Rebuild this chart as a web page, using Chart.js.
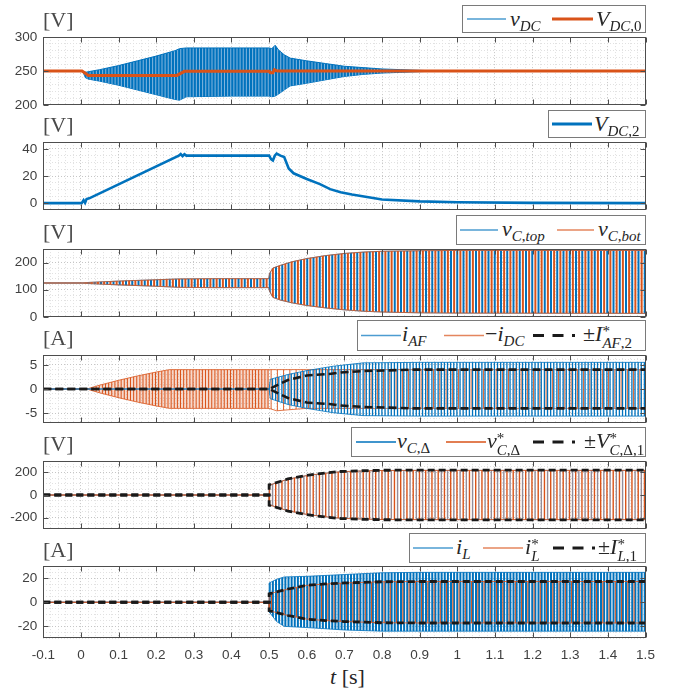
<!DOCTYPE html>
<html>
<head>
<meta charset="utf-8">
<script src="https://cdn.jsdelivr.net/npm/chart.js@4.4.0/dist/chart.umd.min.js"></script>
<style>
body { margin: 0; background: #fff; }
#wrap { position: relative; width: 675px; height: 693px; overflow: hidden; background: #fff; }
canvas { position: absolute; left: 0; }
.unit { position: absolute; left: 43px; font: 22px "Liberation Serif", serif; color: #4a4a4a; line-height: 1; z-index: 2; }
.leg { position: absolute; background: #fff; border: 1px solid #7a7a7a; box-sizing: border-box; z-index: 3;
       font-family: "Liberation Serif", serif; color: #262626; }
.leg svg { position: absolute; top: 0; }
.tx { position: absolute; white-space: nowrap; font-size: 22px; line-height: 1; top: 2px; }
.sb { font-size: 15px; position: relative; top: 5px; }
.ss { display: inline-block; vertical-align: -7px; font-size: 15px; line-height: 12px; }
.ss > span { display: block; }
#xt { position: absolute; left: 330px; top: 664px; font: 22px "Liberation Serif", serif; color: #262626; }
</style>
</head>
<body>
<div id="wrap">
  <div class="unit" style="top:9px">[V]</div>
  <div class="unit" style="top:114px">[V]</div>
  <div class="unit" style="top:221px">[V]</div>
  <div class="unit" style="top:327px">[A]</div>
  <div class="unit" style="top:433px">[V]</div>
  <div class="unit" style="top:539px">[A]</div>

  <div class="leg" style="left:462px;top:5px;width:184px;height:28px">
    <svg style="left:4px" width="39" height="26"><line x1="0" y1="13" x2="39" y2="13" stroke="#0072BD" stroke-opacity="0.7" stroke-width="1.4"/></svg>
    <span class="tx" style="left:47px"><i>v</i><span class="sb"><i>DC</i></span></span>
    <svg style="left:89px" width="41" height="26"><line x1="0" y1="13" x2="41" y2="13" stroke="#D95319" stroke-width="3"/></svg>
    <span class="tx" style="left:133px"><i>V</i><span class="sb"><i>DC</i>,0</span></span>
  </div>

  <div class="leg" style="left:548px;top:110px;width:98px;height:28px">
    <svg style="left:3px" width="40" height="26"><line x1="0" y1="13" x2="40" y2="13" stroke="#0072BD" stroke-width="3"/></svg>
    <span class="tx" style="left:45px"><i>V</i><span class="sb"><i>DC</i>,2</span></span>
  </div>

  <div class="leg" style="left:456px;top:215px;width:190px;height:30px">
    <svg style="left:3px" width="38" height="28"><line x1="0" y1="14" x2="38" y2="14" stroke="#0072BD" stroke-opacity="0.7" stroke-width="1.4"/></svg>
    <span class="tx" style="left:45px"><i>v</i><span class="sb"><i>C</i>,<i>top</i></span></span>
    <svg style="left:100px" width="37" height="28"><line x1="0" y1="14" x2="37" y2="14" stroke="#D95319" stroke-opacity="0.7" stroke-width="1.4"/></svg>
    <span class="tx" style="left:141px"><i>v</i><span class="sb"><i>C</i>,<i>bot</i></span></span>
  </div>

  <div class="leg" style="left:357px;top:320px;width:289px;height:31px">
    <svg style="left:3px" width="40" height="29"><line x1="0" y1="14.5" x2="40" y2="14.5" stroke="#0072BD" stroke-opacity="0.7" stroke-width="1.4"/></svg>
    <span class="tx" style="left:44px"><i>i</i><span class="sb"><i>AF</i></span></span>
    <svg style="left:86px" width="40" height="29"><line x1="0" y1="14.5" x2="40" y2="14.5" stroke="#D95319" stroke-opacity="0.7" stroke-width="1.4"/></svg>
    <span class="tx" style="left:127px">&minus;<i>i</i><span class="sb"><i>DC</i></span></span>
    <svg style="left:175px" width="42" height="29"><line x1="0" y1="14.5" x2="42" y2="14.5" stroke="#1a1a1a" stroke-width="3" stroke-dasharray="11 8.5"/></svg>
    <span class="tx" style="left:225px">&plusmn;<i>I</i><span class="ss"><span>*</span><span><i>AF</i>,2</span></span></span>
  </div>

  <div class="leg" style="left:351px;top:427px;width:295px;height:30px">
    <svg style="left:4px" width="40" height="28"><line x1="0" y1="14" x2="40" y2="14" stroke="#0072BD" stroke-width="1.4"/></svg>
    <span class="tx" style="left:45px"><i>v</i><span class="sb"><i>C</i>,&Delta;</span></span>
    <svg style="left:94px" width="40" height="28"><line x1="0" y1="14" x2="40" y2="14" stroke="#D95319" stroke-width="1.4"/></svg>
    <span class="tx" style="left:135px"><i>v</i><span class="ss"><span>*</span><span><i>C</i>,&Delta;</span></span></span>
    <svg style="left:181px" width="42" height="28"><line x1="0" y1="14" x2="42" y2="14" stroke="#1a1a1a" stroke-width="3" stroke-dasharray="11 8.5"/></svg>
    <span class="tx" style="left:232px">&plusmn;<i>V</i><span class="ss"><span>*</span><span><i>C</i>,&Delta;,1</span></span></span>
  </div>

  <div class="leg" style="left:409px;top:533px;width:237px;height:30px">
    <svg style="left:3px" width="40" height="28"><line x1="0" y1="14" x2="40" y2="14" stroke="#0072BD" stroke-opacity="0.7" stroke-width="1.4"/></svg>
    <span class="tx" style="left:46px"><i>i</i><span class="sb"><i>L</i></span></span>
    <svg style="left:73px" width="40" height="28"><line x1="0" y1="14" x2="40" y2="14" stroke="#D95319" stroke-opacity="0.7" stroke-width="1.4"/></svg>
    <span class="tx" style="left:115px"><i>i</i><span class="ss"><span>*</span><span><i>L</i></span></span></span>
    <svg style="left:143px" width="42" height="28"><line x1="0" y1="14" x2="42" y2="14" stroke="#1a1a1a" stroke-width="3" stroke-dasharray="11 8.5"/></svg>
    <span class="tx" style="left:188px">&plusmn;<i>I</i><span class="ss"><span>*</span><span><i>L</i>,1</span></span></span>
  </div>

  <div id="xt"><i>t</i> [s]</div>
</div>

<script>
// values, time in seconds
const xLabels = ['-0.1', '0', '0.1', '0.2', '0.3', '0.4', '0.5', '0.6', '0.7', '0.8',
                 '0.9', '1', '1.1', '1.2', '1.3', '1.4', '1.5'];

// panel 1: ripple envelope of v_DC, and V_DC,0
const tVdc  = [-0.1, 0.004, 0.012, 0.02, 0.05, 0.1, 0.15, 0.2, 0.25, 0.262, 0.28, 0.4, 0.5, 0.507, 0.516, 0.525, 0.54, 0.556, 0.6, 0.65, 0.7, 0.75, 0.8, 0.85, 0.9, 0.95, 1.5];
const vdcHi = [250, 250, 248, 249, 252, 258, 265, 272, 280, 283, 284, 284, 284, 283, 288, 281, 274, 269, 265, 261, 257, 255, 253, 252, 251, 250, 250];
const vdcLo = [250, 250, 240, 238, 235, 229, 222, 215, 208, 207, 212, 213, 213, 212, 213, 216, 222, 228, 232, 237, 242, 245, 247, 248, 249, 250, 250];
const tVdc0 = [-0.1, 0.003, 0.02, 0.255, 0.275, 0.5, 0.504, 0.51, 0.514, 0.522, 1.5];
const vdc0  = [250, 250, 243.5, 243.5, 249.5, 249.5, 247.5, 247.5, 252, 250, 250];

// panel 2: V_DC,2
const tVdc2 = [-0.1, 0.002, 0.007, 0.011, 0.015, 0.022, 0.26, 0.265, 0.27, 0.275, 0.28, 0.29, 0.5, 0.505, 0.51, 0.515, 0.52, 0.53, 0.54, 0.552, 0.565, 0.6, 0.635, 0.662, 0.69, 0.72, 0.8, 0.9, 1.0, 1.2, 1.5];
const vdc2  = [0, 0, 2.2, 0.3, 3, 3.5, 35, 36.2, 34.6, 36, 35, 35, 35, 32.5, 31.5, 35, 36.5, 35, 34, 25.5, 22, 17.8, 14, 10.3, 8, 6.3, 2.7, 1.3, 0.6, 0.2, 0];

// panel 3: envelope of v_C,top and v_C,bot
const tVc  = [-0.1, 0.005, 0.02, 0.1, 0.2, 0.26, 0.35, 0.499, 0.501, 0.51, 0.53, 0.56, 0.6, 0.65, 0.7, 0.75, 0.8, 0.9, 1.0, 1.5];
const vcHi = [125, 125, 127, 132, 137, 140, 141, 141, 160, 180, 190, 203, 215, 226, 234, 239, 242, 244, 245, 245];
const vcLo = [125, 125, 123, 118, 113, 109, 108, 108, 95, 72, 62, 52, 42, 33, 26, 21, 18, 15, 14, 13];

// panel 4: i_AF, -i_DC envelopes and I*_AF,2
const tIdc   = [-0.1, 0.015, 0.05, 0.1, 0.15, 0.2, 0.235, 0.5, 0.52, 0.55, 0.6, 1.5];
const idcHi  = [0, 0, 0.8, 1.8, 2.7, 3.5, 4, 4, 4, 4, 4, 4];
const idcLo  = [0, 0, -0.8, -1.8, -2.7, -3.5, -4, -4, -4.5, -4.3, -4, -4];
const tIaf   = [-0.1, 0.5, 0.503, 0.55, 0.6, 0.67, 0.75, 0.9, 1.5];
const iafHi  = [0, 0, 2, 3, 3.8, 4.7, 5.4, 5.5, 5.5];
const iafLo  = [0, 0, -2, -3.2, -4, -4.9, -5.5, -5.6, -5.6];
const tIafRef = [-0.1, 0.5, 0.55, 0.6, 0.66, 0.69, 0.75, 0.88, 1.0, 1.5];
const iafRef  = [0, 0, 1.85, 2.8, 3.1, 3.4, 3.7, 4.0, 4.0, 4.0];

// panel 5: v_C,delta, v*_C,delta envelopes and V*_C,delta,1
const tVcd   = [-0.1, 0.5, 0.5, 0.505, 0.55, 0.6, 0.65, 0.69, 0.75, 0.8, 0.9, 1.5];
const vcdRef = [0, 0, 90, 95, 142, 174, 195, 208, 215, 219, 220, 220];
const vcdHi  = [0, 0, 85, 92, 140, 172, 193, 206, 213, 217, 218, 218];
const vcdLo  = [0, 0, -85, -92, -140, -172, -193, -206, -213, -217, -218, -218];

// panel 6: i_L, i*_L envelopes and I*_L,1
const tIl    = [-0.1, 0.5, 0.5, 0.52, 0.54, 0.6, 0.7, 0.8, 0.9, 1.5];
const ilHi   = [0, 0, 16, 19, 21, 21.5, 23, 24.5, 24.8, 24.8];
const ilLo   = [0, 0, -8, -16, -20, -21, -23, -24, -24, -24];
const tIlRef = [-0.1, 0.5, 0.5, 0.55, 0.6, 0.65, 0.7, 0.8, 0.9, 1.5];
const ilRef  = [0, 0, 7, 11, 14, 15.2, 16, 17, 17.2, 17.2];
const ilsHi  = [0, 0, 7, 11, 14, 15.2, 16, 17, 17.2, 17.2];
const ilsLo  = [0, 0, -7, -11, -14, -15.2, -16, -17, -17.2, -17.2];

const BLUE = '#0072BD', ORANGE = '#D95319', BLACK = '#1a1a1a';
const panels = [
  {top: 33, h: 76}, {top: 138, h: 76}, {top: 245, h: 76},
  {top: 351, h: 76}, {top: 457, h: 76}, {top: 562.7, h: 75.7}
];

Chart.defaults.font.family = '"Liberation Sans", Arial, sans-serif';

const pts = (t, v) => t.map((x, i) => ({x: x, y: v[i]}));
const neg = v => v.map(a => -a);
const isMajor = (v, m) => Math.abs(v / m - Math.round(v / m)) < 1e-6;

// vertical stripe fill that stands in for the dense oscillation
function stripes(ctx, period, marks, bg) {
  const n = Math.max(1, Math.round(25 / period));
  const w = Math.round(period * n);
  const c = document.createElement('canvas');
  c.width = w; c.height = 2;
  const g = c.getContext('2d');
  if (bg) { g.fillStyle = bg; g.fillRect(0, 0, w, 2); }
  const p = w / n;
  for (let k = 0; k < n; k++) {
    marks.forEach(([off, wd, col]) => { g.fillStyle = col; g.fillRect(k * p + off, 0, wd, 2); });
  }
  return ctx.createPattern(c, 'repeat');
}

function band(t, hi, lo, color, fillStyle, lateFill) {
  const upper = {data: pts(t, hi), borderColor: color, borderWidth: 1, backgroundColor: fillStyle, fill: '+1'};
  if (lateFill) upper.segment = {backgroundColor: s => s.p0.parsed.x >= 0.5 ? lateFill : fillStyle};
  return [upper, {data: pts(t, lo), borderColor: color, borderWidth: 1, fill: false}];
}

function line(t, v, color, width, dash) {
  return {data: pts(t, v), borderColor: color, borderWidth: width, borderDash: dash || [], fill: false};
}

function framePlugin(yMajor) {
  return {
    id: 'frame',
    afterDraw(chart) {
      const {ctx, chartArea: a, scales: {x, y}} = chart;
      ctx.save();
      ctx.strokeStyle = '#4d4d4d';
      ctx.lineWidth = 1;
      const L = Math.round(a.left) + 0.5, R = Math.round(a.right) - 0.5;
      const T = Math.round(a.top) + 0.5, B = Math.round(a.bottom) - 0.5;
      ctx.strokeRect(L, T, R - L, B - T);
      ctx.beginPath();
      x.ticks.forEach(tk => {
        if (!isMajor(tk.value + 0.1, 0.1)) return;
        const px = Math.round(x.getPixelForValue(tk.value)) + 0.5;
        ctx.moveTo(px, T); ctx.lineTo(px, T + 5);
        ctx.moveTo(px, B); ctx.lineTo(px, B - 5);
      });
      y.ticks.forEach(tk => {
        if (!isMajor(tk.value, yMajor)) return;
        const py = Math.round(y.getPixelForValue(tk.value)) + 0.5;
        ctx.moveTo(L, py); ctx.lineTo(L + 5, py);
        ctx.moveTo(R, py); ctx.lineTo(R - 5, py);
      });
      ctx.stroke();
      ctx.restore();
    }
  };
}

const gridColor = (v, m) => isMajor(v, m) ? '#c6c6c6' : '#e1e1e1';

function makePanel(i, yMin, yMax, yStep, yMajor, buildDatasets) {
  const bottom = i === panels.length - 1;
  const p = panels[i];
  const cTop = Math.floor(p.top - 10);
  const padTop = p.top - cTop;
  const xh = bottom ? 32 : 10;
  const cv = document.createElement('canvas');
  cv.width = 675;
  cv.height = Math.ceil(padTop + p.h + xh);
  cv.style.top = cTop + 'px';
  document.getElementById('wrap').appendChild(cv);
  const ctx = cv.getContext('2d');

  new Chart(ctx, {
    type: 'line',
    data: {datasets: buildDatasets(ctx)},
    options: {
      responsive: false,
      animation: false,
      events: [],
      layout: {padding: {top: padTop, right: 675 - 645.5, left: 0, bottom: cv.height - padTop - p.h - xh}},
      elements: {point: {radius: 0}, line: {tension: 0}},
      plugins: {legend: {display: false}, tooltip: {enabled: false}},
      scales: {
        x: {
          type: 'linear', min: -0.1, max: 1.5,
          ticks: {
            stepSize: 0.02, autoSkip: false, maxRotation: 0, display: bottom,
            padding: 9, color: '#404040', font: {size: 13.5},
            callback: v => isMajor(v + 0.1, 0.1) ? xLabels[Math.round((v + 0.1) * 10)] : ''
          },
          grid: {drawTicks: false, color: c => gridColor(c.tick.value + 0.1, 0.1)},
          border: {display: false, dash: [1, 2]},
          afterFit: s => { s.height = xh; }
        },
        y: {
          min: yMin, max: yMax,
          ticks: {
            stepSize: yStep, autoSkip: false, padding: 6, color: '#404040', font: {size: 13.5},
            callback: v => isMajor(v, yMajor) ? String(v) : ''
          },
          grid: {drawTicks: false, color: c => gridColor(c.tick.value, yMajor)},
          border: {display: false, dash: [1, 2]},
          afterFit: s => { s.width = 43.3; }
        }
      }
    },
    plugins: [framePlugin(yMajor)]
  });
}

// panel 1
makePanel(0, 200, 300, 10, 50, ctx => [
  line(tVdc0, vdc0, ORANGE, 3),
  ...band(tVdc, vdcHi, vdcLo, BLUE, stripes(ctx, 3.13, [[0, 2.1, BLUE]], '#80b5de'))
]);

// panel 2
makePanel(1, -5, 45, 5, 20, ctx => [
  line(tVdc2, vdc2, BLUE, 2.6)
]);

// panel 3
makePanel(2, 0, 250, 20, 100, ctx => [
  ...band(tVc, vcHi, vcLo, 'rgba(217,83,25,0.7)', stripes(ctx, 6.27, [[3.13, 2.0, ORANGE]])),
  ...band(tVc, vcHi, vcLo, 'rgba(0,114,189,0.7)', stripes(ctx, 6.27, [[0, 2.0, BLUE]]))
]);

// panel 4
makePanel(3, -7, 7, 1, 5, ctx => [
  line(tIafRef, iafRef, BLACK, 2.6, [8, 4]),
  line(tIafRef, neg(iafRef), BLACK, 2.6, [8, 4]),
  ...band(tIaf, iafHi, iafLo, 'rgba(0,114,189,0.8)', stripes(ctx, 6.27, [[0, 1.3, BLUE], [3.13, 1.3, BLUE]])),
  ...band(tIdc, idcHi, idcLo, 'rgba(217,83,25,0.8)',
          stripes(ctx, 6.27, [[1.9, 1.0, ORANGE], [5.0, 1.0, ORANGE]], 'rgba(217,83,25,0.22)'),
          stripes(ctx, 6.27, [[1.9, 0.9, ORANGE]]))
]);

// panel 5
makePanel(4, -300, 300, 50, 200, ctx => [
  line(tVcd, vcdRef, BLACK, 2.8, [7, 4]),
  line(tVcd, neg(vcdRef), BLACK, 2.8, [7, 4]),
  ...band(tVcd, vcdHi, vcdLo, 'rgba(217,83,25,0.8)', stripes(ctx, 6.27, [[0, 1.4, ORANGE]])),
  ...band(tVcd, vcdHi, vcdLo, 'rgba(0,114,189,0.6)', stripes(ctx, 6.27, [[3.13, 1.4, '#958c97']]))
]);

// panel 6
makePanel(5, -30, 30, 5, 20, ctx => [
  line(tIlRef, ilRef, BLACK, 2.8, [7, 4]),
  line(tIlRef, neg(ilRef), BLACK, 2.8, [7, 4]),
  ...band(tIlRef, ilsHi, ilsLo, 'rgba(217,83,25,0.8)', stripes(ctx, 6.27, [[2.3, 1.0, ORANGE]])),
  ...band(tIl, ilHi, ilLo, 'rgba(0,114,189,0.8)', stripes(ctx, 3.13, [[0, 2.0, BLUE]]))
]);
</script>
</body>
</html>
